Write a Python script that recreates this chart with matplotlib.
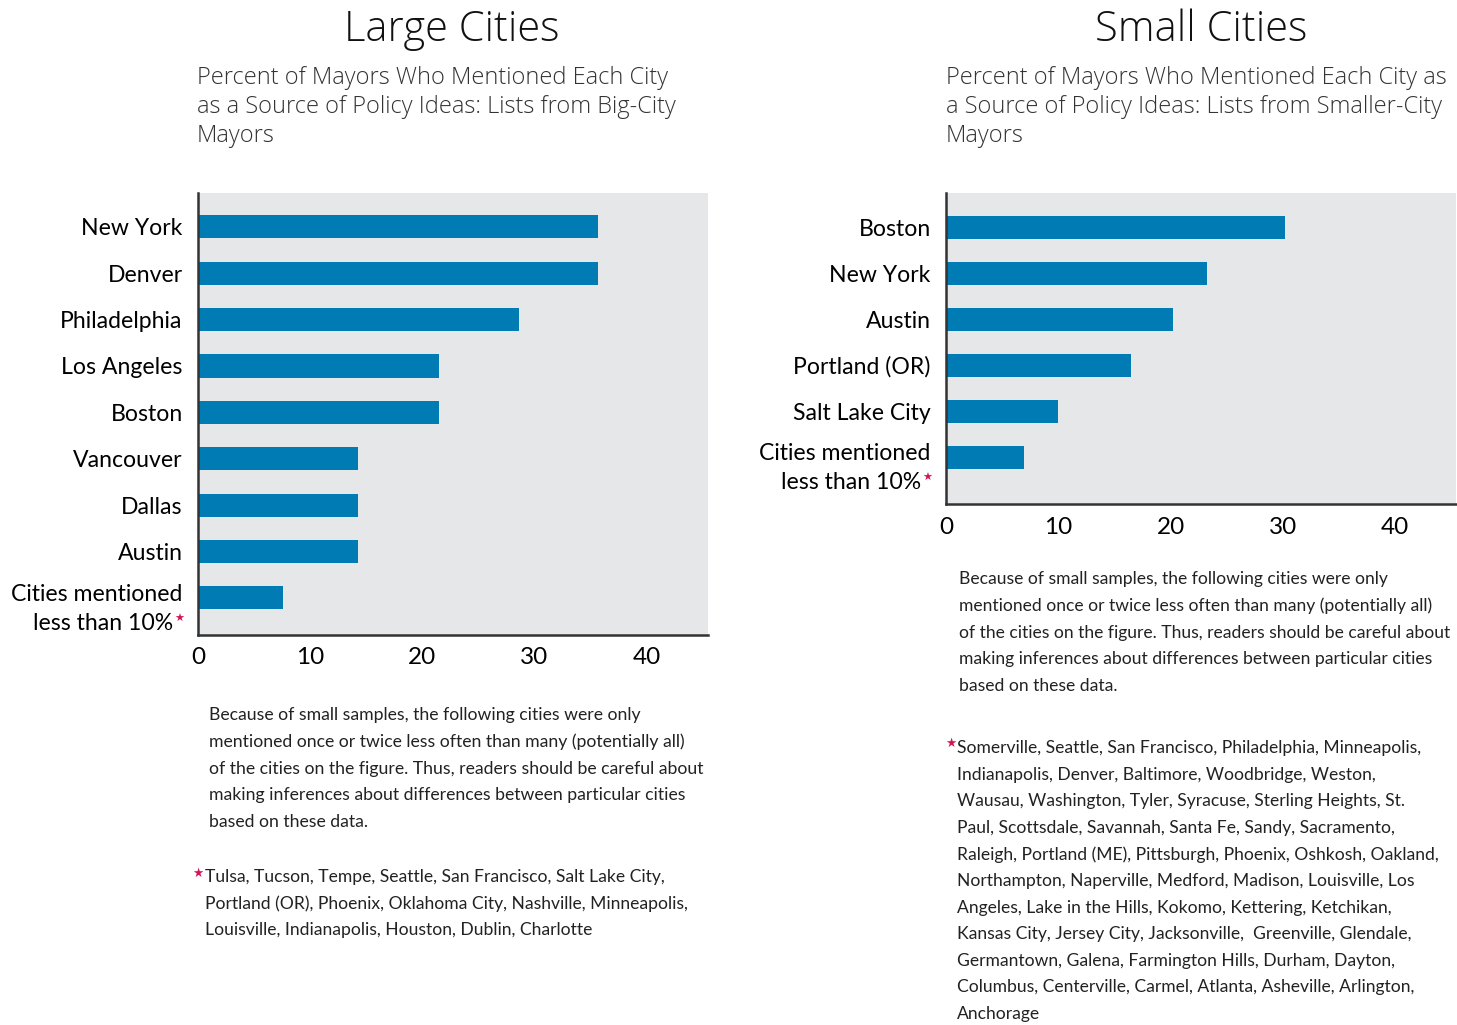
import matplotlib.pyplot as plt

large_cities = ["New York", "Denver", "Philadelphia", "Los Angeles", "Boston",
                "Vancouver", "Dallas", "Austin", "Cities mentioned"]
large_pct = [35.7, 35.7, 28.6, 21.5, 21.5, 14.3, 14.3, 14.3, 7.6]

small_cities = ["Boston", "New York", "Austin", "Portland (OR)", "Salt Lake City",
                "Cities mentioned"]
small_pct = [30.2, 23.2, 20.2, 16.5, 10.0, 6.9]

xticks = [0, 10, 20, 30, 40]

large_note = ["Because of small samples, the following cities were only",
              "mentioned once or twice less often than many (potentially all)",
              "of the cities on the figure. Thus, readers should be careful about",
              "making inferences about differences between particular cities",
              "based on these data."]
large_star = ["Tulsa, Tucson, Tempe, Seattle, San Francisco, Salt Lake City,",
              "Portland (OR), Phoenix, Oklahoma City, Nashville, Minneapolis,",
              "Louisville, Indianapolis, Houston, Dublin, Charlotte"]
small_star = ["Somerville, Seattle, San Francisco, Philadelphia, Minneapolis,",
              "Indianapolis, Denver, Baltimore, Woodbridge, Weston,",
              "Wausau, Washington, Tyler, Syracuse, Sterling Heights, St.",
              "Paul, Scottsdale, Savannah, Santa Fe, Sandy, Sacramento,",
              "Raleigh, Portland (ME), Pittsburgh, Phoenix, Oshkosh, Oakland,",
              "Northampton, Naperville, Medford, Madison, Louisville, Los",
              "Angeles, Lake in the Hills, Kokomo, Kettering, Ketchikan,",
              "Kansas City, Jersey City, Jacksonville,  Greenville, Glendale,",
              "Germantown, Galena, Farmington Hills, Durham, Dayton,",
              "Columbus, Centerville, Carmel, Atlanta, Asheville, Arlington,",
              "Anchorage"]

BLUE = "#007bb4"
GREY = "#e6e7e9"
STAR = "#d4145a"
FONT = "Lato"
W, H = 1457, 1025
LBL = 16.6

plt.rcParams['font.family'] = [FONT, 'DejaVu Sans']
fig = plt.figure(figsize=(W / 100, H / 100), dpi=100)


def px_axes(x0, y0, x1, y1):
    return fig.add_axes([x0 / W, 1 - y1 / H, (x1 - x0) / W, (y1 - y0) / H])


def draw_panel(ax, cities, pct, xmax, top_pad, bot_pad):
    n = len(cities)
    ypos = list(range(n))
    ax.barh(ypos, pct, height=0.5, color=BLUE, zorder=2)
    ax.set_facecolor(GREY)
    ax.set_xlim(0, xmax)
    ax.set_ylim(n - 1 + bot_pad, -top_pad)
    ax.set_xticks(xticks)
    ax.set_xticklabels([str(t) for t in xticks], fontsize=17.5)
    ax.set_yticks(ypos[:-1])
    ax.set_yticklabels(cities[:-1], fontsize=LBL)
    ax.tick_params(length=0, pad=11)
    ax.tick_params(axis='x', pad=9)
    for s in ["top", "right"]:
        ax.spines[s].set_visible(False)
    for s in ["left", "bottom"]:
        ax.spines[s].set_color("#333333")
        ax.spines[s].set_linewidth(1.8)
    # two-line label for the last bar, with red star
    last = n - 1
    ax.annotate(cities[-1], xy=(0, last), xycoords=('axes fraction', 'data'),
                xytext=(-11, 2.5), textcoords='offset points',
                ha='right', va='center', fontsize=LBL)
    ax.annotate("less than 10%", xy=(0, last), xycoords=('axes fraction', 'data'),
                xytext=(-18, -18.5), textcoords='offset points',
                ha='right', va='center', fontsize=LBL)
    ax.annotate("★", xy=(0, last), xycoords=('axes fraction', 'data'),
                xytext=(-10, -15), textcoords='offset points',
                ha='right', va='center', fontsize=8, color=STAR,
                family='DejaVu Sans')


ax1 = px_axes(198, 193, 708, 635)
draw_panel(ax1, large_cities, large_pct, 45.5, 0.73, 0.8)
ax2 = px_axes(946, 193, 1456, 504)
draw_panel(ax2, small_cities, small_pct, 45.4, 0.74, 1.02)

# titles
fig.text(452 / W, 1 - 30 / H, "Large Cities", ha='center', va='center',
         fontsize=30, fontweight='light', family='Open Sans', color='#111111')
fig.text(1201 / W, 1 - 30 / H, "Small Cities", ha='center', va='center',
         fontsize=30, fontweight='light', family='Open Sans', color='#111111')

sub_left = ["Percent of Mayors Who Mentioned Each City",
            "as a Source of Policy Ideas: Lists from Big-City",
            "Mayors"]
sub_right = ["Percent of Mayors Who Mentioned Each City as",
             "a Source of Policy Ideas: Lists from Smaller-City",
             "Mayors"]
for i, line in enumerate(sub_left):
    fig.text(197 / W, 1 - (78 + 29 * i) / H, line, ha='left', va='center',
             fontsize=17, fontweight='light', family='Open Sans', color='#333333')
for i, line in enumerate(sub_right):
    fig.text(946 / W, 1 - (78 + 29 * i) / H, line, ha='left', va='center',
             fontsize=17, fontweight='light', family='Open Sans', color='#333333')

# footnotes
for i, line in enumerate(large_note):
    fig.text(209 / W, 1 - (715 + 26.8 * i) / H, line, ha='left', va='center',
             fontsize=12.7, color='#222222')
for i, line in enumerate(large_note):
    fig.text(959 / W, 1 - (579 + 26.8 * i) / H, line, ha='left', va='center',
             fontsize=12.6, color='#222222')

fig.text(192 / W, 1 - 873 / H, "★", ha='left', va='center', fontsize=9,
         color=STAR, family='DejaVu Sans')
for i, line in enumerate(large_star):
    fig.text(205 / W, 1 - (877 + 26.6 * i) / H, line, ha='left', va='center',
             fontsize=12.6, color='#222222')

fig.text(945 / W, 1 - 743 / H, "★", ha='left', va='center', fontsize=9,
         color=STAR, family='DejaVu Sans')
for i, line in enumerate(small_star):
    fig.text(957 / W, 1 - (748 + 26.6 * i) / H, line, ha='left', va='center',
             fontsize=12.6, color='#222222')

plt.savefig("out.png", dpi=100)
